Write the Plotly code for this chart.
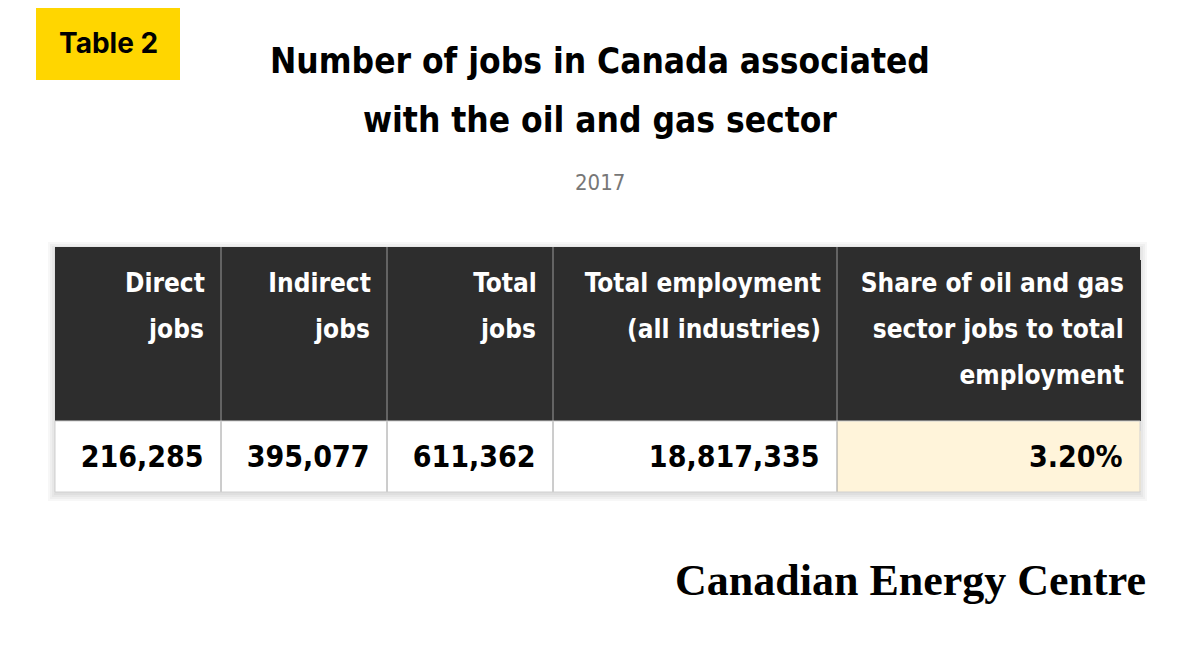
import plotly.graph_objects as go

# table contents, one header line per list item
headers = [["Direct", "jobs"],
           ["Indirect", "jobs"],
           ["Total", "jobs"],
           ["Total employment", "(all industries)"],
           ["Share of oil and gas", "sector jobs to total", "employment"]]
values = ["216,285", "395,077", "611,362", "18,817,335", "3.20%"]
col_widths = [166, 166, 166, 284, 303]

title_lines = ["Number of jobs in Canada associated", "with the oil and gas sector"]
subtitle = "2017"
tag = "Table 2"
source = "Canadian Energy Centre"

W, H = 1200, 650
OFF = 8  # browser page margin shifts the figure by this much
x0, x1 = 55, 1140
y0, y1 = 247, 492
head_top_pad = 13
line_h = 46
head_rows = 3
body_top = 421
body_pad = 10

narrow = "DejaVu Sans Condensed"
dark = "#2d2d2d"
grid = "#9a9a9a"
cream = "#fff4da"
body_fill = ["white", "white", "white", "white", cream]


def px(x):
    return (x - OFF) / W


def py(y):
    return 1 - (y - OFF) / H


pad = "&nbsp;"
hdr = [[s + pad for s in h] + [""] * (head_rows - len(h)) for h in headers]
vals = [[v + pad] for v in values]

fig = go.Figure()

# soft shadow round the table
for i in range(4):
    d = 1 + i * 2
    fig.add_shape(type="rect", xref="paper", yref="paper", layer="below",
                  x0=px(x0 - d), x1=px(x1 + d),
                  y0=py(y1 + d + 2), y1=py(y0 - d + 2),
                  line_width=0, fillcolor="rgba(0,0,0,0.03)")

# dark band behind the header and light band at top of the value row
fig.add_shape(type="rect", xref="paper", yref="paper", layer="below",
              x0=px(x0), x1=px(x1), y0=py(body_top), y1=py(y0),
              line_width=0, fillcolor=dark)
edge = x0
for w, c in zip(col_widths, body_fill):
    fig.add_shape(type="rect", xref="paper", yref="paper", layer="below",
                  x0=px(edge), x1=px(edge + w), y0=py(y1), y1=py(body_top),
                  line_width=0, fillcolor=c)
    edge += w

# header block: three text lines plus a dark spacer row
fig.add_trace(go.Table(
    domain=dict(x=[px(x0), px(x1)], y=[py(body_top), py(y0 + head_top_pad)]),
    columnwidth=col_widths,
    header=dict(
        values=hdr,
        align="right",
        fill_color=dark,
        line_color=dark,
        line_width=1,
        height=line_h,
        font=dict(family=narrow, size=26, color="white", weight="bold"),
    ),
    cells=dict(
        values=[[""] for _ in headers],
        fill_color=dark,
        line_color=dark,
        height=body_top - y0 - head_top_pad - head_rows * line_h,
    ),
))

# value row (drawn as the header row of a second table, clipped to its domain)
fig.add_trace(go.Table(
    domain=dict(x=[px(x0), px(x1)], y=[py(y1), py(body_top + body_pad)]),
    columnwidth=col_widths,
    header=dict(
        values=vals,
        align="right",
        fill_color=[[c] for c in body_fill],
        line_color=[[c] for c in body_fill],
        line_width=1,
        height=y1 - body_top - body_pad,
        font=dict(family=narrow, size=30, color="black", weight="bold"),
    ),
    cells=dict(values=[[""] for _ in values], fill_color="white",
               line_color="white", height=20),
))

# column separators through the whole table
edge = x0
for w in col_widths[:-1]:
    edge += w
    fig.add_shape(type="line", xref="paper", yref="paper", layer="above",
                  x0=px(edge), x1=px(edge), y0=py(y1), y1=py(y0),
                  line=dict(color=grid, width=1))
fig.add_shape(type="rect", xref="paper", yref="paper", layer="above",
              x0=px(x0), x1=px(x1), y0=py(y1), y1=py(body_top),
              line=dict(color="#d0d0d0", width=1))

# yellow tag
fig.add_shape(type="rect", xref="paper", yref="paper",
              x0=px(36), x1=px(180), y0=py(80), y1=py(0),
              line_width=0, fillcolor="#ffd600")
fig.add_annotation(x=px(108), y=py(43), xref="paper", yref="paper",
                   text=tag, showarrow=False, xanchor="center", yanchor="middle",
                   font=dict(family="Inter", size=28, color="black", weight="bold"))

for line, yc in zip(title_lines, [61, 120]):
    fig.add_annotation(x=px(600), y=py(yc), xref="paper", yref="paper",
                       text=line, showarrow=False,
                       xanchor="center", yanchor="middle",
                       font=dict(family=narrow, size=35, color="black", weight="bold"))
fig.add_annotation(x=px(600), y=py(183), xref="paper", yref="paper",
                   text=subtitle, showarrow=False, xanchor="center", yanchor="middle",
                   font=dict(family=narrow, size=22, color="#777777"))
fig.add_annotation(x=px(1148), y=py(580), xref="paper", yref="paper",
                   text=source, showarrow=False, xanchor="right", yanchor="middle",
                   font=dict(family="Liberation Serif", size=44, color="black", weight="bold"))

fig.update_layout(width=W, height=H, margin=dict(l=0, r=0, t=0, b=0),
                  paper_bgcolor="white", plot_bgcolor="white")

fig.write_html("out.html")
